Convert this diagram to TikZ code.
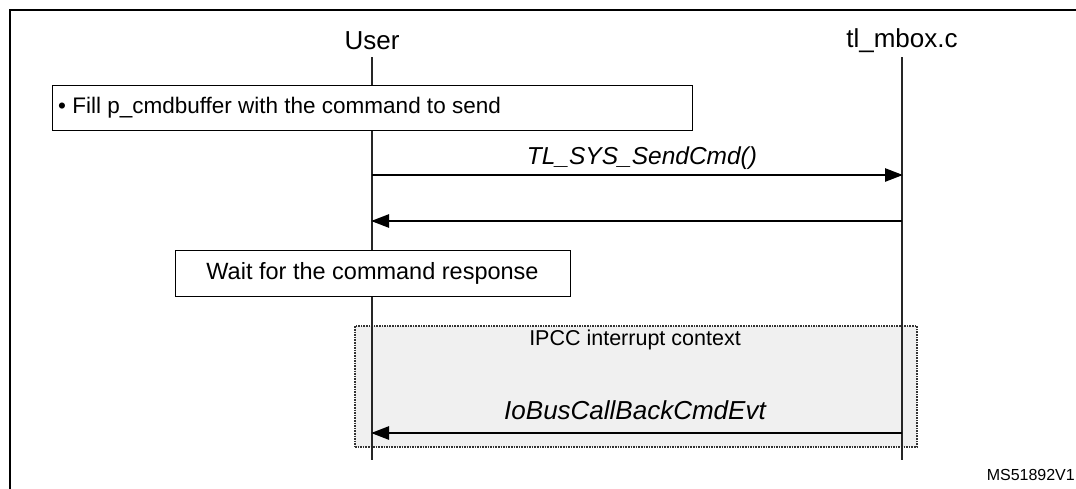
\documentclass[tikz,border=0pt]{standalone}
\usepackage{fontspec}
\setmainfont{Liberation Sans}
\usetikzlibrary{arrows.meta}
\begin{document}
\begin{tikzpicture}[x=1pt,y=-1pt,
  frame/.style={line width=2.2pt},
  lifeline/.style={line width=1.4pt, draw=black!85},
  msg/.style={line width=2.6pt, -{Triangle[length=18pt,width=13pt]}},
  stepbox/.style={draw, line width=1pt, fill=white},
  ctx/.style={draw=black!80, densely dotted, line width=1.6pt, fill=black!6},
  head/.style={font=\fontsize{26}{30}\selectfont, inner sep=0pt},
  boxtext/.style={font=\fontsize{23}{27}\selectfont, inner sep=0pt},
  msglabel/.style={font=\fontsize{24.5}{29}\selectfont\itshape, inner sep=0pt}]
\useasboundingbox (0,0) rectangle (1076,488);
% outer frame
\draw[frame] (10,500) -- (10,10) -- (1080,10);
% context box
\node[ctx, minimum width=562pt, minimum height=121pt, inner sep=0pt] (ctxbox) at (636,386.5) {};
\node[font=\fontsize{21.5}{25}\selectfont, inner sep=0pt] (ctxlabel) at (635,340) {IPCC interrupt context};
% headers
\node[head] (u) at (372,41) {User};
\node[head] (t) at (902,41) {tl\_mbox.c};
\coordinate (uend) at (372,460);
\coordinate (tend) at (902,460);
\draw[lifeline] (372,57) -- (uend);
\draw[lifeline] (902,57) -- (tend);
% step boxes
\node[stepbox, minimum width=640pt, minimum height=45pt, inner sep=0pt] (fill) at (372,107.5) {};
\node[boxtext, font=\fontsize{22.5}{27}\selectfont, anchor=west] (filltext) at (58,108) {\textbullet\ Fill p\_cmdbuffer with the command to send};
\node[stepbox, minimum width=395pt, minimum height=46pt, inner sep=0pt, boxtext, font=\fontsize{23.5}{28}\selectfont] (wait) at (372.5,273) {Wait for the command response};
% messages
\coordinate (u1) at (372,175);
\coordinate (t1) at (903,175);
\coordinate (u2) at (371,221);
\coordinate (t2) at (902,221);
\coordinate (u3) at (371,433);
\coordinate (t3) at (902,433);
\draw[msg] (u1) -- (t1);
\node[msglabel] (l1) at (642,158) {TL\_SYS\_SendCmd()};
\draw[msg] (t2) -- (u2);
\draw[msg] (t3) -- (u3);
\node[msglabel, font=\fontsize{26}{31}\selectfont\itshape] (l3) at (635,410) {IoBusCallBackCmdEvt};
% footer
\node[font=\fontsize{16}{19}\selectfont, anchor=east, inner sep=0pt] (ms) at (1075,475) {MS51892V1};
\end{tikzpicture}
\end{document}
